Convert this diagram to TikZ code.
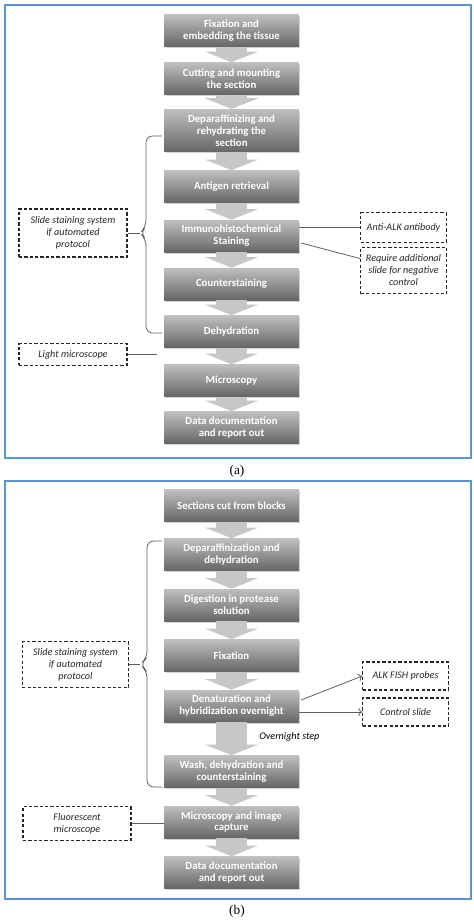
\documentclass[tikz,border=0pt]{standalone}
\usepackage{fontspec}
\setmainfont{Carlito}
\newfontfamily\capfont{Liberation Serif}
\usepackage{xcolor}
\usetikzlibrary{arrows.meta,shadows,calc}
\definecolor{frameblue}{RGB}{91,148,210}
\definecolor{linegray}{RGB}{95,95,95}

\begin{document}
\begin{tikzpicture}[x=0.75pt, y=-0.75pt]
    \tikzstyle{stepbox} = [rectangle, minimum width=101pt, minimum height=24pt, inner sep=2pt, align=center, top color=black!25, bottom color=black!60, draw=none, text=white, font=\bfseries\fontsize{8.1}{8.9}\selectfont, drop shadow={opacity=0.35, shadow xshift=1.2pt, shadow yshift=-1.2pt}]
    \tikzstyle{flow} = [line width=23pt, black!22, -{Triangle[width=40pt, length=8pt, line width=0pt]}]
    \tikzstyle{note} = [rectangle, draw=black!85, dash pattern=on 2.4pt off 1.6pt, line width=0.8pt, align=center, font=\itshape\fontsize{7.6}{9}\selectfont, text=black!85, inner sep=1pt]
    \tikzstyle{link} = [draw=linegray, line width=0.6pt]
    \tikzstyle{brace} = [draw=linegray, line width=0.6pt, rounded corners=5]
    \tikzstyle{frame} = [draw=frameblue, line width=1.2pt]
    \tikzstyle{caption} = [font=\capfont\fontsize{10}{12}\selectfont]

    \useasboundingbox (0,0) rectangle (474,922);

    % Panel frames and captions
    \draw[frame] (5,5) rectangle (471,458);
    \draw[frame] (5,481) rectangle (471,899);
    \node [caption] (capa) at (237,471) {(a)};
    \node [caption] (capb) at (237,911) {(b)};

    % (a) immunohistochemistry steps
    \node [stepbox] (fix) at (231.5,30.5) {Fixation and\\embedding the tissue};
    \node [stepbox] (cut) at (231.5,78.5) {Cutting and mounting\\the section};
    \node [stepbox, minimum height=32pt] (depar) at (231.5,130.5) {Deparaffinizing and\\rehydrating the\\section};
    \node [stepbox] (antigen) at (231.5,186.5) {Antigen retrieval};
    \node [stepbox] (ihc) at (231.5,236) {Immunohistochemical\\Staining};
    \node [stepbox] (counter) at (231.5,284) {Counterstaining};
    \node [stepbox] (dehyd) at (231.5,331.5) {Dehydration};
    \node [stepbox] (micro) at (231.5,380.5) {Microscopy};
    \node [stepbox] (datadoc) at (231.5,427.5) {Data documentation\\and report out};

    \draw[flow] (fix) -- (cut);
    \draw[flow] (cut) -- (depar);
    \draw[flow] (depar) -- (antigen);
    \draw[flow] (antigen) -- (ihc);
    \draw[flow] (ihc) -- (counter);
    \draw[flow] (counter) -- (dehyd);
    \draw[flow] (dehyd) -- (micro);
    \draw[flow] (micro) -- (datadoc);

    % (a) notes
    \node [note, minimum width=81pt, minimum height=36pt] (slidea) at (73,233) {Slide staining system\\if automated\\protocol};
    \node [note, minimum width=64pt, minimum height=22pt] (anti) at (403.5,227.5) {Anti-ALK antibody};
    \node [note, minimum width=64pt, minimum height=35pt] (req) at (403.5,270.5) {Require additional\\slide for negative\\control};
    \node [note, minimum width=81pt, minimum height=16pt] (lightm) at (73,354.5) {Light microscope};

    \coordinate (tipa) at (140,233);
    \draw[brace] (162,136) -| (146,227) -- (tipa) -- (146,239) |- (162,333);
    \draw[link] (slidea.east) -- (tipa);
    \draw[link] (ihc.east |- anti.west) -- (anti.west);
    \draw[link] ($(ihc.east)+(2,7)$) -- ($(req.north west)!0.25!(req.south west)$);
    \coordinate (lmend) at (157,354.5);
    \draw[link] (lightm.east) -- (lmend);

    % (b) FISH steps
    \node [stepbox] (sect) at (231.5,505.5) {Sections cut from blocks};
    \node [stepbox] (deparb) at (231.5,554.5) {Deparaffinization and\\dehydration};
    \node [stepbox] (digest) at (231.5,605) {Digestion in protease\\solution};
    \node [stepbox] (fixb) at (231.5,655.5) {Fixation};
    \node [stepbox] (denat) at (231.5,706) {Denaturation and\\hybridization overnight};
    \node [stepbox] (wash) at (231.5,771.5) {Wash, dehydration and\\counterstaining};
    \node [stepbox] (microb) at (231.5,822) {Microscopy and image\\capture};
    \node [stepbox] (datab) at (231.5,872.5) {Data documentation\\and report out};

    \draw[flow] (sect) -- (deparb);
    \draw[flow] (deparb) -- (digest);
    \draw[flow] (digest) -- (fixb);
    \draw[flow] (fixb) -- (denat);
    \draw[flow] (denat) -- (wash);
    \draw[flow] (wash) -- (microb);
    \draw[flow] (microb) -- (datab);

    % (b) notes
    \node [note, minimum width=80pt, minimum height=34pt] (slideb) at (75.5,664.5) {Slide staining system\\if automated\\protocol};
    \node [note, minimum width=64pt, minimum height=21pt] (alk) at (405.5,676) {ALK FISH probes};
    \node [note, minimum width=64pt, minimum height=21pt] (ctrl) at (405.5,712) {Control slide};
    \node [note, minimum width=81pt, minimum height=25pt] (fluor) at (77,823.5) {Fluorescent\\microscope};
    \node [font=\itshape\fontsize{7.6}{9}\selectfont, anchor=west, inner sep=0pt] (overnight) at (259,737) {Overnight step};

    \coordinate (tipb) at (140,664.5);
    \draw[brace] (162,541) -| (147,658) -- (tipb) -- (147,671) |- (162,787);
    \draw[link] (slideb.east) -- (tipb);
    \draw[link, -{To[length=3pt, width=6pt]}] ($(denat.east)+(2,-6)$) -- (alk.west);
    \draw[link, -{To[length=3pt, width=6pt]}] (denat.east |- ctrl.west) -- (ctrl.west);
    \draw[link] (fluor.east) -- (microb.west |- fluor.east);
\end{tikzpicture}
\end{document}
